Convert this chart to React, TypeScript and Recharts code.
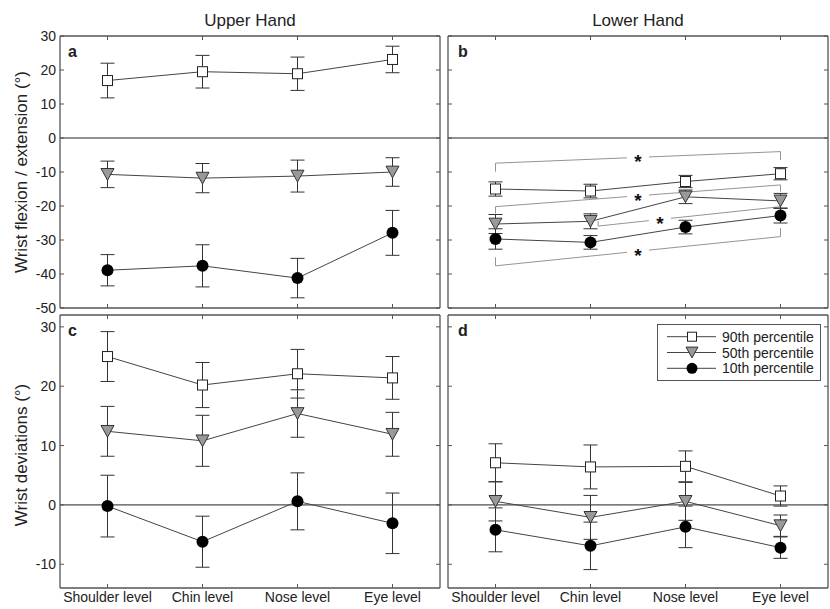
import React from "react";
import {
  LineChart,
  Line,
  XAxis,
  YAxis,
  ErrorBar,
  ReferenceLine,
  ReferenceDot,
  Legend,
} from "recharts";

const PAGE_W = 830;
const PAGE_H = 609;
const FONT = "'Liberation Sans', Arial, Helvetica, sans-serif";

const categories = ["Shoulder level", "Chin level", "Nose level", "Eye level"];

const flexTicks = [-50, -40, -30, -20, -10, 0, 10, 20, 30];
const devTicks = [-10, 0, 10, 20, 30];

// a: upper hand, flexion / extension
const upperFlex90 = [16.9, 19.5, 18.9, 23.1];
const upperFlex90Err = [5.1, 4.8, 4.9, 3.9];
const upperFlex50 = [-10.7, -11.8, -11.2, -10.0];
const upperFlex50Err = [3.9, 4.3, 4.7, 4.2];
const upperFlex10 = [-38.9, -37.6, -41.2, -27.9];
const upperFlex10Err = [4.6, 6.2, 5.8, 6.6];

// b: lower hand, flexion / extension
const lowerFlex90 = [-15.0, -15.6, -12.8, -10.5];
const lowerFlex90Err = [2.1, 2.0, 1.8, 1.8];
const lowerFlex50 = [-25.3, -24.5, -17.3, -18.5];
const lowerFlex50Err = [2.8, 2.2, 2.0, 2.2];
const lowerFlex10 = [-29.7, -30.7, -26.2, -22.8];
const lowerFlex10Err = [3.0, 2.0, 2.0, 2.2];

// c: upper hand, deviations
const upperDev90 = [25.0, 20.2, 22.1, 21.4];
const upperDev90Err = [4.2, 3.8, 4.1, 3.6];
const upperDev50 = [12.4, 10.8, 15.4, 11.9];
const upperDev50Err = [4.2, 4.3, 4.0, 3.7];
const upperDev10 = [-0.2, -6.2, 0.6, -3.1];
const upperDev10Err = [5.2, 4.3, 4.8, 5.1];

// d: lower hand, deviations
const lowerDev90 = [7.1, 6.4, 6.5, 1.5];
const lowerDev90Err = [3.2, 3.7, 2.6, 1.7];
const lowerDev50 = [0.6, -2.1, 0.6, -3.5];
const lowerDev50Err = [3.3, 3.7, 3.2, 1.8];
const lowerDev10 = [-4.2, -6.9, -3.7, -7.2];
const lowerDev10Err = [3.7, 4.0, 3.5, 1.8];

// significance brackets in panel b (x = category index)
const lowerFlexBrackets = [
  { x1: 0, y1: -7.4, x2: 3, y2: -4.0, tick: -2.5, starX: 1.5 },
  { x1: 0, y1: -20.2, x2: 3, y2: -13.8, tick: -2, starX: 1.5 },
  { x1: 1.08, y1: -25.9, x2: 3, y2: -20.2, tick: 1.5, starX: 1.73 },
  { x1: 0, y1: -37.6, x2: 3, y2: -29.0, tick: 2.5, starX: 1.5 },
];

const legendLabels = ["90th percentile", "50th percentile", "10th percentile"];

type Row = {
  cat: string;
  idx: number;
  p90: number;
  e90: number;
  p50: number;
  e50: number;
  p10: number;
  e10: number;
};

function makeRows(
  p90: number[],
  e90: number[],
  p50: number[],
  e50: number[],
  p10: number[],
  e10: number[]
): Row[] {
  return categories.map((cat, i) => ({
    cat,
    idx: i,
    p90: p90[i],
    e90: e90[i],
    p50: p50[i],
    e50: e50[i],
    p10: p10[i],
    e10: e10[i],
  }));
}

const LINE = "#444";
const FRAME = "#555";

function Square({ cx, cy, s = 10 }: { cx: number; cy: number; s?: number }) {
  return (
    <rect x={cx - s / 2} y={cy - s / 2} width={s} height={s} fill="#fff" stroke="#222" strokeWidth={1} />
  );
}
function Triangle({ cx, cy, s = 13 }: { cx: number; cy: number; s?: number }) {
  const h = s * 0.9;
  return (
    <path
      d={`M${cx - s / 2},${cy - h / 2} L${cx + s / 2},${cy - h / 2} L${cx},${cy + h / 2} Z`}
      fill="#999"
      stroke="#333"
      strokeWidth={1}
    />
  );
}
function Circle({ cx, cy, r = 6 }: { cx: number; cy: number; r?: number }) {
  return <circle cx={cx} cy={cy} r={r} fill="#000" />;
}

const dotOf = (kind: "sq" | "tri" | "cir") => (props: any) => {
  const { cx, cy, index } = props;
  if (cx == null || cy == null) return <g key={index} />;
  return (
    <g key={index}>
      {kind === "sq" && <Square cx={cx} cy={cy} />}
      {kind === "tri" && <Triangle cx={cx} cy={cy} />}
      {kind === "cir" && <Circle cx={cx} cy={cy} />}
    </g>
  );
};

const StarShape = (props: any) => {
  const { cx, cy } = props;
  return (
    <g>
      <rect x={cx - 11} y={cy - 6} width={22} height={12} fill="#fff" />
      <text
        x={cx}
        y={cy + 11}
        textAnchor="middle"
        fontSize={19}
        fontWeight="bold"
        fontFamily={FONT}
        fill="#111"
      >
        *
      </text>
    </g>
  );
};

const LegendBox = () => (
  <svg width={164} height={57} style={{ display: "block" }}>
    <rect x={0.5} y={0.5} width={163} height={56} fill="#fff" stroke={FRAME} strokeWidth={1} />
    {legendLabels.map((label, i) => {
      const y = 12.7 + i * 15.8;
      return (
        <g key={label}>
          <line x1={10} x2={59} y1={y} y2={y} stroke={LINE} strokeWidth={1} />
          {i === 0 && <Square cx={35} cy={y} s={9} />}
          {i === 1 && <Triangle cx={35} cy={y} s={12} />}
          {i === 2 && <Circle cx={35} cy={y} r={5.5} />}
          <text x={65} y={y + 5} fontSize={14} fontFamily={FONT} fill="#222">
            {label}
          </text>
        </g>
      );
    })}
  </svg>
);

type Bracket = (typeof lowerFlexBrackets)[number];

type PanelProps = {
  rows: Row[];
  left: number;
  top: number;
  width: number;
  height: number;
  domain: [number, number];
  ticks: number[];
  yLabels: boolean;
  xLabels: boolean;
  brackets?: Bracket[];
  legend?: boolean;
};

function Panel(p: PanelProps) {
  const yw = p.yLabels ? 50 : 1;
  const xh = p.xLabels ? 22 : 1;
  const margin = {
    top: p.top - 1,
    left: p.left - yw,
    right: PAGE_W - (p.left + p.width) - 1,
    bottom: PAGE_H - (p.top + p.height) - xh,
  };
  // categories sit in the middle of four equal bands
  const pad = p.width / categories.length / 2;
  const tickStyle = { fill: "#222", fontSize: 14, fontFamily: FONT };
  const axisLine = { stroke: FRAME, strokeWidth: 1.3 };
  const tickLine = { stroke: FRAME, strokeWidth: 1 };
  const blank = () => "";

  return (
    <div style={{ position: "absolute", left: 0, top: 0 }}>
      <LineChart width={PAGE_W} height={PAGE_H} data={p.rows} margin={margin}>
        <XAxis
          xAxisId="b"
          dataKey="cat"
          orientation="bottom"
          height={xh}
          interval={0}
          padding={{ left: pad, right: pad }}
          tickSize={-4}
          tickMargin={8}
          tick={tickStyle}
          tickFormatter={p.xLabels ? undefined : blank}
          axisLine={axisLine}
          tickLine={tickLine}
        />
        <XAxis
          xAxisId="t"
          dataKey="cat"
          orientation="top"
          height={1}
          interval={0}
          padding={{ left: pad, right: pad }}
          tickSize={-4}
          tick={tickStyle}
          tickFormatter={blank}
          axisLine={axisLine}
          tickLine={tickLine}
        />
        <XAxis
          xAxisId="n"
          dataKey="idx"
          type="number"
          domain={[0, 3]}
          padding={{ left: pad, right: pad }}
          allowDataOverflow
          hide
        />
        <YAxis
          yAxisId="l"
          orientation="left"
          width={yw}
          domain={p.domain}
          ticks={p.ticks}
          interval={0}
          allowDataOverflow
          tickSize={-4}
          tickMargin={8}
          tick={tickStyle}
          tickFormatter={p.yLabels ? undefined : blank}
          axisLine={axisLine}
          tickLine={tickLine}
        />
        <YAxis
          yAxisId="r"
          orientation="right"
          width={1}
          domain={p.domain}
          ticks={p.ticks}
          interval={0}
          allowDataOverflow
          tickSize={-4}
          tick={tickStyle}
          tickFormatter={blank}
          axisLine={axisLine}
          tickLine={tickLine}
        />
        <ReferenceLine xAxisId="b" yAxisId="l" y={0} stroke="#222" strokeWidth={1} />
        {(p.brackets || []).map((b, i) => (
          <ReferenceLine
            key={`bl-${i}`}
            xAxisId="n"
            yAxisId="l"
            segment={[
              { x: b.x1, y: b.y1 },
              { x: b.x2, y: b.y2 },
            ]}
            stroke="#888"
            strokeWidth={0.9}
          />
        ))}
        {(p.brackets || []).map((b, i) => (
          <ReferenceLine
            key={`bt1-${i}`}
            xAxisId="n"
            yAxisId="l"
            segment={[
              { x: b.x1, y: b.y1 },
              { x: b.x1, y: b.y1 + b.tick },
            ]}
            stroke="#888"
            strokeWidth={0.9}
          />
        ))}
        {(p.brackets || []).map((b, i) => (
          <ReferenceLine
            key={`bt2-${i}`}
            xAxisId="n"
            yAxisId="l"
            segment={[
              { x: b.x2, y: b.y2 },
              { x: b.x2, y: b.y2 + b.tick },
            ]}
            stroke="#888"
            strokeWidth={0.9}
          />
        ))}
        <Line
          xAxisId="b"
          yAxisId="l"
          dataKey="p90"
          stroke={LINE}
          strokeWidth={1}
          dot={dotOf("sq")}
          activeDot={false}
          isAnimationActive={false}
        >
          <ErrorBar dataKey="e90" width={7} stroke="#333" strokeWidth={1} direction="y" />
        </Line>
        <Line
          xAxisId="b"
          yAxisId="l"
          dataKey="p50"
          stroke={LINE}
          strokeWidth={1}
          dot={dotOf("tri")}
          activeDot={false}
          isAnimationActive={false}
        >
          <ErrorBar dataKey="e50" width={7} stroke="#333" strokeWidth={1} direction="y" />
        </Line>
        <Line
          xAxisId="b"
          yAxisId="l"
          dataKey="p10"
          stroke={LINE}
          strokeWidth={1}
          dot={dotOf("cir")}
          activeDot={false}
          isAnimationActive={false}
        >
          <ErrorBar dataKey="e10" width={7} stroke="#333" strokeWidth={1} direction="y" />
        </Line>
        {(p.brackets || []).map((b, i) => (
          <ReferenceDot
            key={`bs-${i}`}
            xAxisId="n"
            yAxisId="l"
            x={b.starX}
            y={b.y1 + ((b.starX - b.x1) / (b.x2 - b.x1)) * (b.y2 - b.y1)}
            r={0}
            shape={StarShape}
          />
        ))}
        {p.legend && (
          <Legend
            layout="vertical"
            align="center"
            verticalAlign="middle"
            content={() => <LegendBox />}
            wrapperStyle={{ position: "absolute", left: 657, top: 324, width: 164, height: 57 }}
          />
        )}
      </LineChart>
    </div>
  );
}

export default function App() {
  const rowsA = makeRows(upperFlex90, upperFlex90Err, upperFlex50, upperFlex50Err, upperFlex10, upperFlex10Err);
  const rowsB = makeRows(lowerFlex90, lowerFlex90Err, lowerFlex50, lowerFlex50Err, lowerFlex10, lowerFlex10Err);
  const rowsC = makeRows(upperDev90, upperDev90Err, upperDev50, upperDev50Err, upperDev10, upperDev10Err);
  const rowsD = makeRows(lowerDev90, lowerDev90Err, lowerDev50, lowerDev50Err, lowerDev10, lowerDev10Err);

  const txt = { fontFamily: FONT, fill: "#222" };

  return (
    <div
      style={{
        position: "absolute",
        left: 0,
        top: 0,
        width: PAGE_W,
        height: PAGE_H,
        background: "#fff",
        overflow: "hidden",
      }}
    >
      <Panel rows={rowsA} left={60} top={36} width={380} height={272} domain={[-50, 30]} ticks={flexTicks} yLabels xLabels={false} />
      <Panel
        rows={rowsB}
        left={448}
        top={36}
        width={380}
        height={272}
        domain={[-50, 30]}
        ticks={flexTicks}
        yLabels={false}
        xLabels={false}
        brackets={lowerFlexBrackets}
      />
      <Panel rows={rowsC} left={60} top={315} width={380} height={273} domain={[-14, 32]} ticks={devTicks} yLabels xLabels />
      <Panel
        rows={rowsD}
        left={448}
        top={315}
        width={380}
        height={273}
        domain={[-14, 32]}
        ticks={devTicks}
        yLabels={false}
        xLabels
        legend
      />
      <svg
        width={PAGE_W}
        height={PAGE_H}
        style={{ position: "absolute", left: 0, top: 0, pointerEvents: "none" }}
      >
        <text x={250} y={26} textAnchor="middle" fontSize={17} {...txt}>
          Upper Hand
        </text>
        <text x={638} y={26} textAnchor="middle" fontSize={17} {...txt}>
          Lower Hand
        </text>
        <text x={27} y={172} textAnchor="middle" fontSize={17} transform="rotate(-90 27 172)" {...txt}>
          Wrist flexion / extension (°)
        </text>
        <text x={27} y={455} textAnchor="middle" fontSize={17} transform="rotate(-90 27 455)" {...txt}>
          Wrist deviations (°)
        </text>
        <text x={68} y={57} fontSize={16} fontWeight="bold" {...txt}>a</text>
        <text x={458} y={57} fontSize={16} fontWeight="bold" {...txt}>b</text>
        <text x={68} y={336} fontSize={16} fontWeight="bold" {...txt}>c</text>
        <text x={458} y={336} fontSize={16} fontWeight="bold" {...txt}>d</text>
      </svg>
    </div>
  );
}
